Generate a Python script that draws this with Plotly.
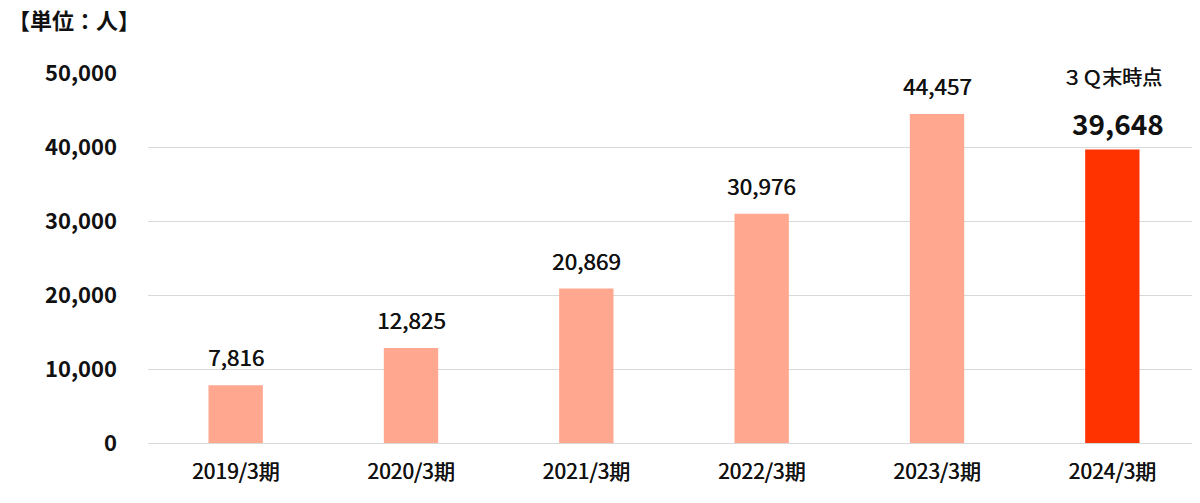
import plotly.graph_objects as go

categories = ["2019/3期", "2020/3期", "2021/3期", "2022/3期", "2023/3期", "2024/3期"]
members = [7816, 12825, 20869, 30976, 44457, 39648]
bar_colors = ["#FFA78F", "#FFA78F", "#FFA78F", "#FFA78F", "#FFA78F", "#FF3300"]
y_ticks = [0, 10000, 20000, 30000, 40000, 50000]
unit_label = "【単位：人】"
note_label = "３Ｑ末時点"

FONT = "Noto Sans CJK JP, Noto Sans, sans-serif"
# a thin shadow to imitate the medium weight of the reference
MED_SHADOW = "0.5px 0px 0px #111111"

fig = go.Figure()
fig.add_trace(go.Bar(
    x=categories,
    y=members,
    marker=dict(color=bar_colors, line=dict(width=0)),
    hoverinfo="skip",
))

# value labels above bars
annotations = []
for i, (c, v) in enumerate(zip(categories, members)):
    last = i == len(categories) - 1
    annotations.append(dict(
        x=c, y=v, xref="x", yref="y",
        text=f"{v:,}",
        showarrow=False, yanchor="bottom", yshift=5 if last else 11,
        xshift=6 if last else 0,
        font=dict(family=FONT, size=28 if last else 22.5, color="#111111",
                  weight="bold" if last else "normal",
                  shadow="none" if last else MED_SHADOW),
    ))

annotations.append(dict(
    x=categories[-1], y=members[-1], xref="x", yref="y",
    text=note_label, showarrow=False, yanchor="bottom", yshift=57,
    font=dict(family=FONT, size=20, color="#111111", shadow=MED_SHADOW),
))

# page has an 8px body margin, so offsets are shifted by 8
fig.update_layout(
    width=1200, height=503,
    margin=dict(l=140, r=8, t=65, b=68),
    paper_bgcolor="white", plot_bgcolor="white",
    showlegend=False,
    bargap=0.69,
    font=dict(family=FONT, color="#111111"),
    annotations=annotations,
    title=dict(
        text=unit_label, x=0, xanchor="left", xref="container",
        y=1, yanchor="top", yref="container",
        pad=dict(t=6, l=0),
        font=dict(family=FONT, size=22, color="#111111", weight="bold"),
    ),
)

fig.update_xaxes(
    tickfont=dict(family=FONT, size=21, color="#111111", shadow=MED_SHADOW),
    showgrid=False, showline=False, ticks="",
    ticklabelstandoff=14,
)
fig.update_yaxes(
    range=[0, 50000],
    tickvals=y_ticks,
    tickformat=",",
    tickfont=dict(family=FONT, size=22, color="#111111", weight="bold"),
    showgrid=True, gridcolor="#D9D9D9", gridwidth=1,
    zeroline=True, zerolinecolor="#D9D9D9", zerolinewidth=1,
    ticks="", ticklabelstandoff=30,
    showline=False,
)

fig.write_html("out.html")
